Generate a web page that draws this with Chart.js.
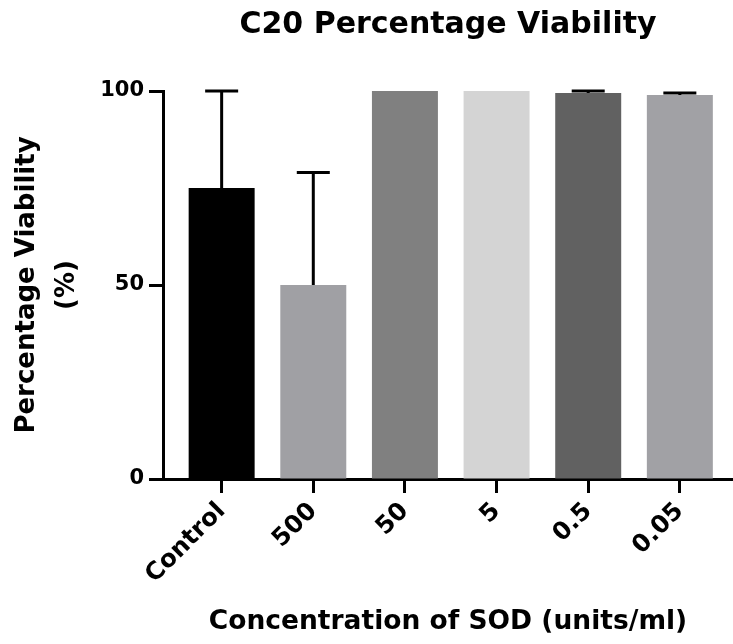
<!DOCTYPE html>
<html>
<head>
<meta charset="utf-8">
<script src="https://cdn.jsdelivr.net/npm/chart.js@4/dist/chart.umd.min.js"></script>
<style>
  html, body { margin: 0; padding: 0; background: #fff; }
  #wrap { width: 733px; height: 644px; position: relative; }
</style>
</head>
<body>
<div id="wrap"><canvas id="viabilityChart"></canvas></div>
<script>
const categories = ['Control', '500', '50', '5', '0.5', '0.05'];
const viability = [75, 50, 100, 100, 99.5, 99];
const errorUp = [25, 29, 0, 0, 0.5, 0.5];
const barColors = ['#000000', '#a0a0a4', '#808080', '#d4d4d4', '#616161', '#a1a1a5'];
const yTicks = [0, 50, 100];

const FONT = 'DejaVu Sans';
Chart.defaults.color = '#000';
Chart.defaults.font.family = FONT;

// upper error bars only, like the original plot
const errorBars = {
    id: 'errorBars',
    afterDatasetsDraw(chart) {
        const { ctx, scales: { x, y } } = chart;
        ctx.save();
        ctx.strokeStyle = '#000';
        ctx.lineWidth = 3;
        viability.forEach((v, i) => {
            if (!errorUp[i]) return;
            const px = x.getPixelForValue(i);
            const base = y.getPixelForValue(v);
            const top = y.getPixelForValue(v + errorUp[i]);
            ctx.beginPath();
            ctx.moveTo(px, base);
            ctx.lineTo(px, top);
            ctx.moveTo(px - 16.5, top);
            ctx.lineTo(px + 16.5, top);
            ctx.stroke();
        });
        ctx.restore();
    }
};

new Chart(document.getElementById('viabilityChart'), {
    type: 'bar',
    data: {
        datasets: [{
            data: viability.map((v, i) => ({ x: i, y: v })),
            backgroundColor: barColors,
            borderWidth: 0
        }]
    },
    options: {
        responsive: true,
        maintainAspectRatio: false,
        animation: false,
        layout: { padding: 0 },
        plugins: {
            legend: { display: false },
            tooltip: { enabled: false },
            title: {
                display: true,
                text: 'C20 Percentage Viability',
                fullSize: false,
                color: '#000',
                font: { family: FONT, size: 30, weight: 'bold', lineHeight: 1.2 },
                padding: { top: 7, bottom: 48 }
            }
        },
        scales: {
            x: {
                type: 'linear',
                min: -0.64,
                max: 5.58,
                offset: false,
                afterBuildTicks: s => { s.ticks = categories.map((_, i) => ({ value: i })); },
                afterFit: s => { s.height = 165; },
                ticks: {
                    autoSkip: false,
                    minRotation: 45,
                    maxRotation: 45,
                    padding: 4,
                    color: '#000',
                    font: { family: FONT, size: 24.5, weight: 'bold' },
                    callback: v => categories[v]
                },
                grid: { offset: false, drawOnChartArea: false, drawTicks: true, tickLength: 14, tickWidth: 3, tickColor: '#000' },
                border: { display: true, color: '#000', width: 3 },
                title: {
                    display: true,
                    text: 'Concentration of SOD (units/ml)',
                    color: '#000',
                    font: { family: FONT, size: 26.5, weight: 'bold', lineHeight: 1.2 },
                    padding: { top: 0, bottom: 6 }
                }
            },
            y: {
                min: 0,
                max: 100,
                afterBuildTicks: s => { s.ticks = yTicks.map(v => ({ value: v })); },
                afterFit: s => { s.width = 163; },
                ticks: {
                    padding: 5,
                    color: '#000',
                    font: { family: FONT, size: 21, weight: 'bold' }
                },
                grid: { drawOnChartArea: false, drawTicks: true, tickLength: 14, tickWidth: 3, tickColor: '#000' },
                border: { display: true, color: '#000', width: 3 },
                title: {
                    display: true,
                    text: ['Percentage Viability', '(%)'],
                    color: '#000',
                    font: { family: FONT, size: 26, weight: 'bold', lineHeight: 1.55 },
                    padding: { top: 7, bottom: 0 }
                }
            }
        }
    },
    plugins: [errorBars]
});
</script>
</body>
</html>
